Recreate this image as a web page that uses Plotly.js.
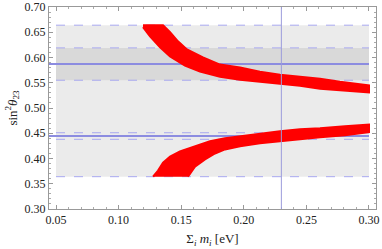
<!DOCTYPE html>
<html>
<head>
<meta charset="utf-8">
<script src="https://cdn.plot.ly/plotly-3.0.1.min.js"></script>
<style>html,body{margin:0;padding:0;background:#fff;}#chart{width:382px;height:249px;}</style>
</head>
<body>
<div id="chart"></div>
<script>
// Upper branch of allowed region (outline)
var upperX = [0.1195,0.1355,0.1411,0.1474,0.1546,0.1674,0.1810,0.1970,0.2129,0.2289,0.2449,0.2609,0.2768,0.2928,0.3000,
              0.3000,0.2848,0.2609,0.2449,0.2289,0.2129,0.1970,0.1810,0.1650,0.1530,0.1411,0.1331,0.1251,0.1195];
var upperY = [0.664,0.664,0.650,0.632,0.616,0.600,0.586,0.580,0.572,0.566,0.562,0.558,0.552,0.548,0.545,
              0.531,0.534,0.538,0.544,0.548,0.552,0.556,0.562,0.572,0.584,0.602,0.620,0.642,0.660];
// Lower branch of allowed region (outline)
var lowerX = [0.1275,0.1315,0.1355,0.1411,0.1490,0.1610,0.1730,0.1850,0.1970,0.2129,0.2289,0.2449,0.2609,0.2808,0.3000,
              0.3000,0.2808,0.2609,0.2449,0.2289,0.2129,0.1970,0.1850,0.1770,0.1690,0.1610,0.1554];
var lowerY = [0.364,0.376,0.392,0.404,0.414,0.424,0.434,0.440,0.444,0.450,0.454,0.458,0.460,0.464,0.467,
              0.452,0.446,0.442,0.438,0.434,0.430,0.424,0.418,0.410,0.398,0.384,0.364];
// Experimental ranges of sin^2 theta23
var bandX = [0.05, 0.30];
var outerBand = [0.364, 0.664];
var innerBand = [0.555, 0.619];
var bestFits = [0.587, 0.4447];
var dashedLevels = [0.664, 0.619, 0.555, 0.451, 0.438, 0.364];
var sumMassLine = 0.23;
var xTicks = [0.05, 0.10, 0.15, 0.20, 0.25, 0.30];
var xTickText = ["0.05","0.10","0.15","0.20","0.25","0.30"];
var yTicks = [0.30,0.35,0.40,0.45,0.50,0.55,0.60,0.65,0.70];
var yTickText = ["0.30","0.35","0.40","0.45","0.50","0.55","0.60","0.65","0.70"];

var xRange = [0.0444, 0.3056];
var red = '#ff0000';
var traces = [
  {x: upperX, y: upperY, type:'scatter', mode:'lines', fill:'toself', fillcolor:red,
   line:{color:red, width:2}, hoverinfo:'skip'},
  {x: lowerX, y: lowerY, type:'scatter', mode:'lines', fill:'toself', fillcolor:red,
   line:{color:red, width:2}, hoverinfo:'skip'}
];

var shapes = [];
shapes.push({type:'rect', layer:'below', xref:'x', yref:'y', x0:bandX[0], x1:bandX[1], y0:outerBand[0], y1:outerBand[1],
  fillcolor:'#ebebeb', line:{width:0}});
shapes.push({type:'rect', layer:'below', xref:'x', yref:'y', x0:bandX[0], x1:bandX[1], y0:innerBand[0], y1:innerBand[1],
  fillcolor:'#d9d9d9', line:{width:0}});
dashedLevels.forEach(function(v){
  shapes.push({type:'line', layer:'below', xref:'x', yref:'y', x0:bandX[0], x1:bandX[1], y0:v, y1:v,
    line:{color:'#a8a8f0', width:1, dash:'dash'}});
});
bestFits.forEach(function(v){
  shapes.push({type:'line', layer:'below', xref:'x', yref:'y', x0:xRange[0], x1:bandX[1], y0:v, y1:v,
    line:{color:'#8c8ce0', width:2}});
});
shapes.push({type:'line', layer:'above', xref:'x', yref:'paper', x0:sumMassLine, x1:sumMassLine, y0:0, y1:1,
  line:{color:'#9c9cdc', width:1}});

var axisFont = {family:'Liberation Serif, serif', size:12, color:'#222'};
var layout = {
  width:382, height:249,
  margin:{l:49, r:6, t:7, b:40},
  paper_bgcolor:'#fff', plot_bgcolor:'#fff',
  showlegend:false,
  font:axisFont,
  xaxis:{range:xRange, tickvals:xTicks, ticktext:xTickText, ticks:'inside', ticklen:4, tickcolor:'#999',
    showgrid:false, zeroline:false, showline:true, linecolor:'#999', linewidth:1, mirror:'ticks',
    minor:{ticks:'inside', ticklen:2, dtick:0.01, tick0:0.05, tickcolor:'#aaa', showgrid:false},
    tickfont:axisFont,
    title:{text:'Σ<sub><i>i</i></sub> <i>m</i><sub><i>i</i></sub> [eV]', font:{family:'Liberation Serif, serif', size:13, color:'#222'}, standoff:7}},
  yaxis:{range:[0.30,0.70], tickvals:yTicks, ticktext:yTickText, ticks:'inside', ticklen:4, tickcolor:'#999',
    showgrid:false, zeroline:false, showline:true, linecolor:'#999', linewidth:1, mirror:'ticks',
    minor:{ticks:'inside', ticklen:2, dtick:0.01, tick0:0.30, tickcolor:'#aaa', showgrid:false},
    tickfont:axisFont,
    title:{text:'sin<sup>2</sup><i>θ</i><sub>23</sub>', font:{family:'Liberation Serif, serif', size:13, color:'#222'}, standoff:4}},
  shapes:shapes
};
Plotly.newPlot('chart', traces, layout, {staticPlot:true, displayModeBar:false});
</script>
</body>
</html>
